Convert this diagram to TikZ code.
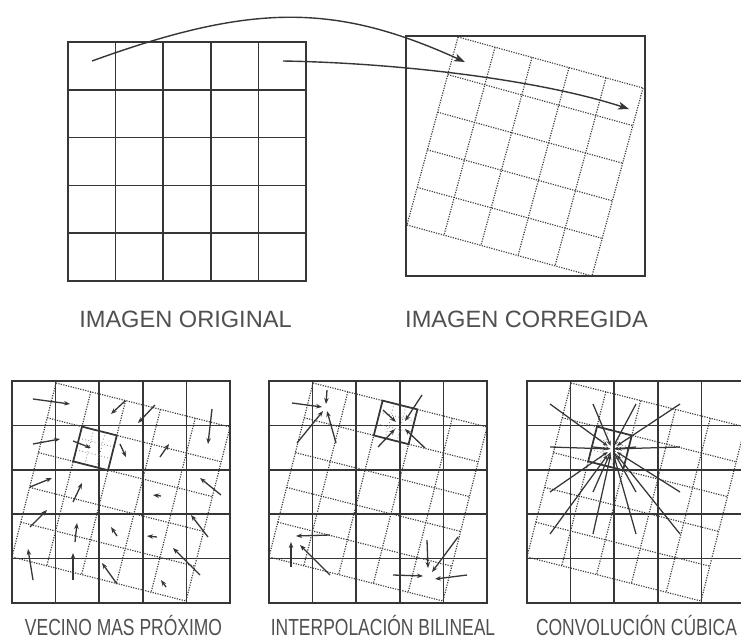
\documentclass[tikz,border=0pt]{standalone}
\usepackage{fontspec}
\newfontfamily\labfont[FakeStretch=0.75]{Liberation Sans}
\newfontfamily\toplabfont{Liberation Sans}
\usetikzlibrary{arrows.meta,calc}
\definecolor{ink}{HTML}{363636}
\definecolor{dotink}{HTML}{3E3E3E}
\definecolor{txt}{HTML}{505050}
\begin{document}
\begin{tikzpicture}[x=1pt,y=-1pt,
  gridline/.style={draw=ink, line width=1.6pt, line cap=rect},
  dotline/.style={draw=dotink, line width=1.15pt, dash pattern=on 1.2pt off 1.3pt},
  fineline/.style={draw=dotink!70, line width=0.8pt, dash pattern=on 0.8pt off 2.4pt},
  vec/.style={draw=ink, line width=1.3pt, -{Stealth[length=6pt,width=4.5pt]}},
  cvec/.style={draw=ink, line width=1.25pt, -{Stealth[length=5pt,width=3.8pt]}},
  bigarrow/.style={draw=ink, line width=1.4pt, -{Stealth[length=11pt,width=8pt,inset=3pt]}},
  lab/.style={font=\toplabfont\fontsize{23.6}{26}\selectfont, text=txt, anchor=base, inner sep=0pt},
  blab/.style={font=\labfont\fontsize{23.3}{26}\selectfont, text=txt, anchor=base, inner sep=0pt},
]
\fill[white] (0,0) rectangle (741,640);
\useasboundingbox (0,0) rectangle (741,640);
\clip (0,0) rectangle (741,640);

% ---------- top-left original grid ----------
\foreach \k in {0,...,5} {
  \draw[gridline] ({68+47.6*\k},42) -- ({68+47.6*\k},281);
  \draw[gridline] (68,{42+47.8*\k}) -- (306,{42+47.8*\k});
}

% ---------- top-right corrected image ----------
\draw[gridline] (406,36) rectangle (645,276);
\foreach \k in {0,...,5} {
  \draw[dotline] ({458+37*\k},{37+10.2*\k}) -- ++(-51,188);
  \draw[dotline] ({458-10.2*\k},{37+37.6*\k}) -- ++(185,51);
}

% ---------- top arrows ----------
\coordinate (a1) at (92,61);
\coordinate (a2) at (465,62);
\coordinate (b1) at (283,61);
\coordinate (b2) at (629,109);
\draw[bigarrow] (a1) .. controls (252,3) and (335,3) .. (a2);
\draw[bigarrow] (b1) .. controls (400,63) and (540,80) .. (b2);

\node[lab] (t1) at (185.5,327) {IMAGEN ORIGINAL};
\node[lab] (t2) at (526.5,327) {IMAGEN CORREGIDA};

% ---------- bottom panels: grids ----------
\foreach \ox in {12,269,527} {
  \foreach \k in {0,...,5} {
    \draw[gridline] ({\ox+43.6*\k},381) -- ({\ox+43.6*\k},603);
    \draw[gridline] (\ox,{381+44.4*\k}) -- ({\ox+218},{381+44.4*\k});
  }
  \foreach \k in {0,...,5} {
    \draw[dotline] ({\ox+44+34.8*\k},{383+8.8*\k}) -- ++(-44,174);
    \draw[dotline] ({\ox+44-8.8*\k},{383+34.8*\k}) -- ++(174,44);
  }
}

% ---------- solid output-pixel squares with inner dots ----------
\foreach \sx/\sy in {82/426.6, 382.6/400.6, 597/426.6} {
  \foreach \f in {0.333,0.667} {
    \draw[fineline] ({\sx+34.8*\f},{\sy+8.8*\f}) -- ++(-8.8,34.8);
    \draw[fineline] ({\sx-8.8*\f},{\sy+34.8*\f}) -- ++(34.8,8.8);
  }
  \draw[draw=ink, line width=1.7pt, line join=miter] (\sx,\sy) -- ++(34.8,8.8) -- ++(-8.8,34.8) -- ++(-34.8,-8.8) -- cycle;
}

% ---------- panel 1: nearest neighbour ----------
\foreach \xa/\ya/\xb/\yb in {
  33/399/70/404, 33/444/60/439, 73/441/91/448, 30/487/52/478,
  73/502/82/483, 30/527/47/510, 75/542/77/523, 33/580/28/549,
  73/580/73/553, 117/584/102/563, 117/536/111/527, 125/401/111/414,
  155/405/138/423, 212/409/208/444, 120/444/126/457, 160/457/169/444,
  161/496/153/495, 221/495/200/478, 208/537/191/515, 157/537/147/536,
  200/575/173/548, 166/587/161/580} {
  \draw[vec] (\xa,\ya) -- (\xb,\yb);
}

% ---------- panel 2: bilinear ----------
\foreach \xa/\ya/\xb/\yb in {
  292/403/322/407, 327/390/326/404, 297/443/323/411, 336/443/327/411,
  422/395/405/421, 383/410/396/422, 378/447/395/429, 425/448/405/429,
  330/535/296/536, 291/567/291/542, 330/575/300/545,
  427/540/428/568, 458/537/432/572, 393/575/423/576, 467/575/435/579} {
  \draw[vec] (\xa,\ya) -- (\xb,\yb);
}

% ---------- panel 3: cubic convolution ----------
\coordinate (ctr) at (612,449);
\foreach \cx in {550,593,636,680} {
  \foreach \cy in {404,447,492,534} {
    \draw[cvec] (\cx,\cy) -- ($(\cx,\cy)!0.93!(ctr)$);
  }
}

% ---------- bottom labels ----------
\node[blab] (l1) at (123.5,635) {VECINO MAS PRÓXIMO};
\node[blab] (l2) at (383,635) {INTERPOLACIÓN BILINEAL};
\node[blab] (l3) at (636.5,635) {CONVOLUCIÓN CÚBICA};
\end{tikzpicture}
\end{document}
